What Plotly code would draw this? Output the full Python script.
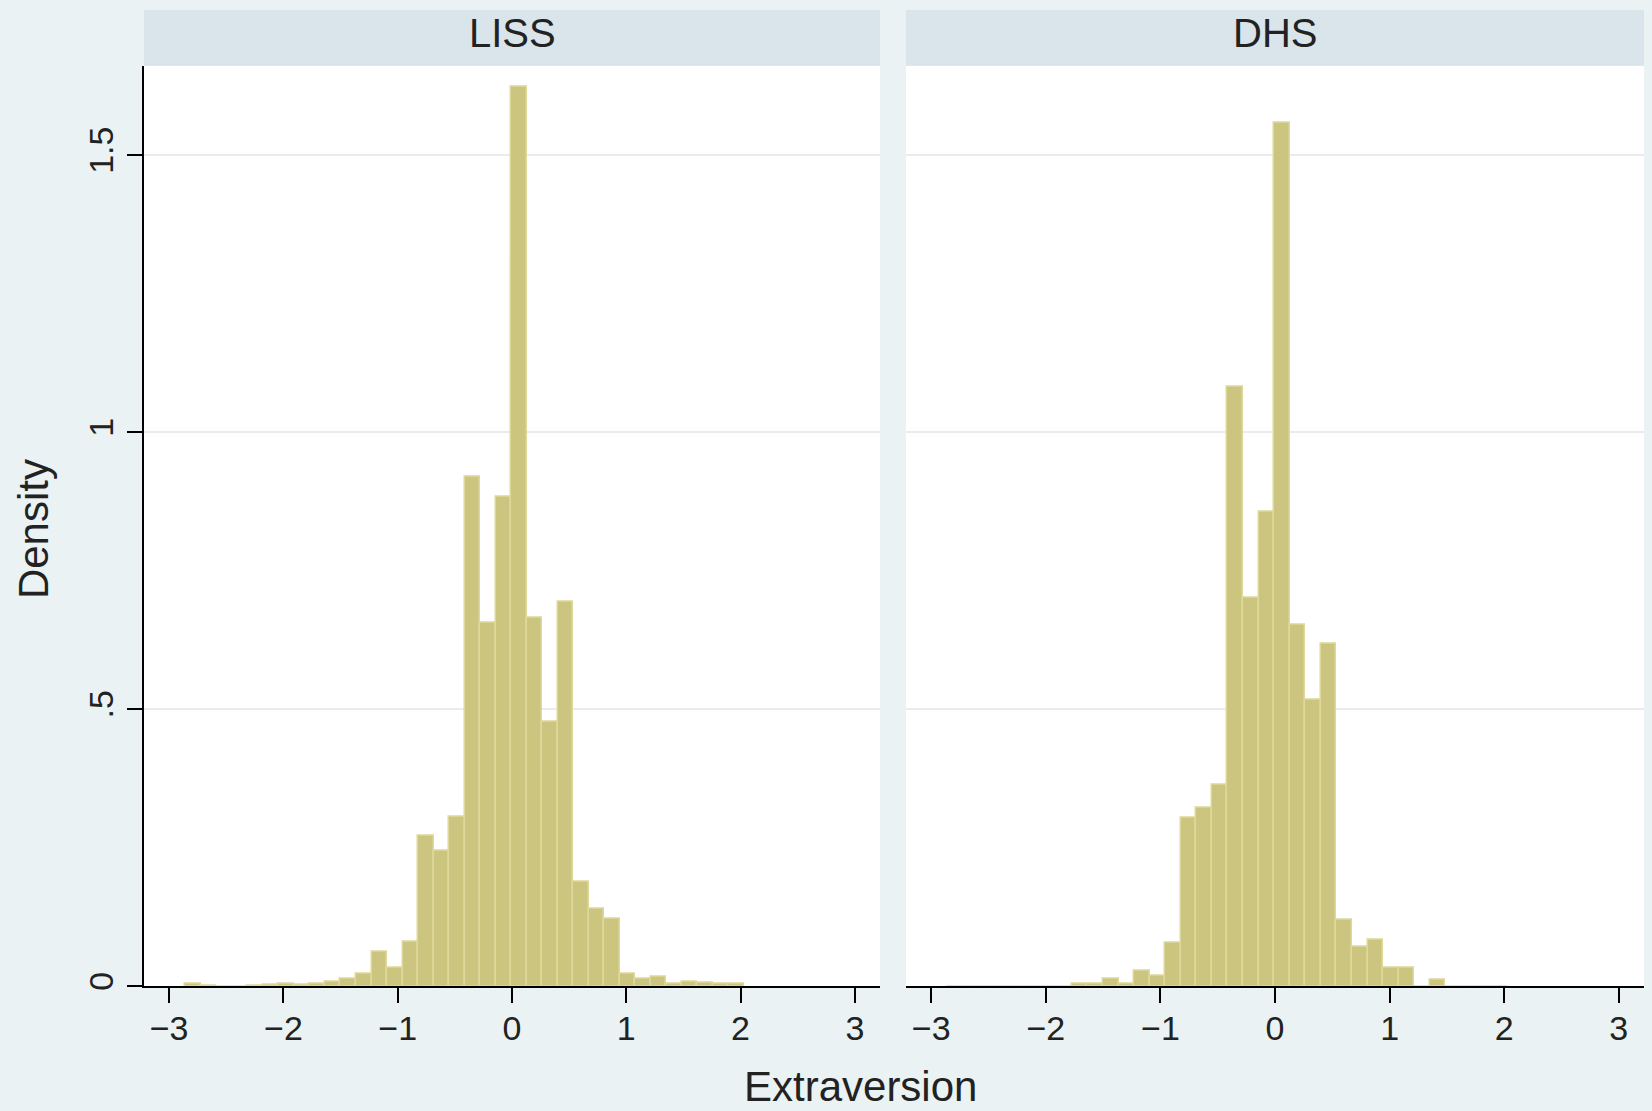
import plotly.graph_objects as go

# Histogram bins (common to both panels, Stata by() histogram)
bin_start = -2.859
bin_width = 0.1358
n_bins = 36

liss_density = [0.004, 0.001, 0.0, 0.0, 0.002, 0.003, 0.004, 0.003, 0.005, 0.008,
                0.013, 0.022, 0.063, 0.034, 0.080, 0.272, 0.244, 0.306, 0.919, 0.656,
                0.884, 1.623, 0.666, 0.477, 0.695, 0.189, 0.140, 0.122, 0.022, 0.014,
                0.018, 0.004, 0.008, 0.007, 0.004, 0.005]

dhs_density = [0.0, 0.0, 0.0, 0.0, 0.0, 0.0, 0.0, 0.0, 0.004, 0.005,
               0.013, 0.004, 0.028, 0.020, 0.078, 0.305, 0.322, 0.364, 1.082, 0.701,
               0.857, 1.559, 0.652, 0.517, 0.618, 0.121, 0.072, 0.085, 0.034, 0.034,
               0.0, 0.012, 0.0, 0.0, 0.0, 0.0]

panel_titles = ["LISS", "DHS"]
x_ticks = [-3, -2, -1, 0, 1, 2, 3]
y_ticks = [0, 0.5, 1, 1.5]
y_tick_labels = ["0", ".5", "1", "1.5"]
x_title = "Extraversion"
y_title = "Density"

centers = [bin_start + bin_width * (i + 0.5) for i in range(n_bins)]

W, H = 1652, 1111
FONT = "Liberation Sans, Arial, sans-serif"
BG = "rgb(234,242,243)"
STRIP = "rgb(217,229,235)"
BAR = "rgb(204,197,128)"
BAR_LINE = "rgb(222,216,155)"
GRID = "rgb(234,236,236)"

def px_x(p):
    return p / W

def px_y(p):
    return 1 - p / H

left_dom = [px_x(144), px_x(880)]
right_dom = [px_x(906), px_x(1644)]
y_dom = [px_y(990), px_y(66)]

fig = go.Figure()
for vals, xa, ya in [(liss_density, "x", "y"), (dhs_density, "x2", "y2")]:
    fig.add_trace(go.Bar(
        x=centers, y=vals, width=[bin_width] * n_bins,
        marker=dict(color=BAR, line=dict(color=BAR_LINE, width=1.5)),
        xaxis=xa, yaxis=ya, showlegend=False, hoverinfo="x+y"))

xr = [-3.22, 3.22]
yr = [0, 1.6616]
common_x = dict(range=xr, tickmode="array", tickvals=x_ticks,
                showgrid=False, zeroline=False, showline=True, linecolor="black",
                linewidth=2, ticks="outside", ticklen=15, tickwidth=2, tickcolor="black",
                ticklabelstandoff=-4,
                tickfont=dict(family=FONT, size=34, color="#222"), fixedrange=True)
common_y = dict(range=yr, tickmode="array", tickvals=y_ticks, ticktext=y_tick_labels,
                showgrid=True, gridcolor=GRID, gridwidth=2, zeroline=False,
                fixedrange=True)

fig.update_layout(
    width=W, height=H,
    margin=dict(l=0, r=0, t=0, b=0),
    paper_bgcolor=BG, plot_bgcolor="white",
    bargap=0,
    xaxis=dict(domain=left_dom, anchor="y", **common_x),
    xaxis2=dict(domain=right_dom, anchor="y2", **common_x),
    yaxis=dict(domain=y_dom, anchor="x", showline=True, linecolor="black", linewidth=2,
               ticks="outside", ticklen=15, tickwidth=2, tickcolor="black", tickangle=-90,
               tickfont=dict(family=FONT, size=34, color="#222"), **common_y),
    yaxis2=dict(domain=y_dom, anchor="x2", showline=False, showticklabels=False,
                ticks="", **common_y),
)

# Strips with panel titles
for dom, title in zip([left_dom, right_dom], panel_titles):
    fig.add_shape(type="rect", xref="paper", yref="paper",
                  x0=dom[0], x1=dom[1], y0=px_y(66), y1=px_y(10),
                  fillcolor=STRIP, line=dict(width=0), layer="below")
    fig.add_annotation(x=(dom[0] + dom[1]) / 2, y=px_y(33), xref="paper", yref="paper",
                       text=title, showarrow=False, xanchor="center", yanchor="middle",
                       font=dict(family=FONT, size=40, color="#222"))

fig.add_annotation(x=px_x(860), y=px_y(1090), xref="paper", yref="paper",
                   text=x_title, showarrow=False, xanchor="center", yanchor="middle",
                   font=dict(family=FONT, size=42, color="#222"))
fig.add_annotation(x=px_x(33), y=px_y(531), xref="paper", yref="paper",
                   text=y_title, showarrow=False, textangle=-90,
                   xanchor="center", yanchor="middle",
                   font=dict(family=FONT, size=42, color="#222"))

fig.write_html(
    "out.html",
    config={"displayModeBar": False},
    post_script=("document.body.style.margin='0';"
                 "document.body.style.overflow='hidden';"
                 "document.body.style.background='rgb(234,242,243)';"),
)
